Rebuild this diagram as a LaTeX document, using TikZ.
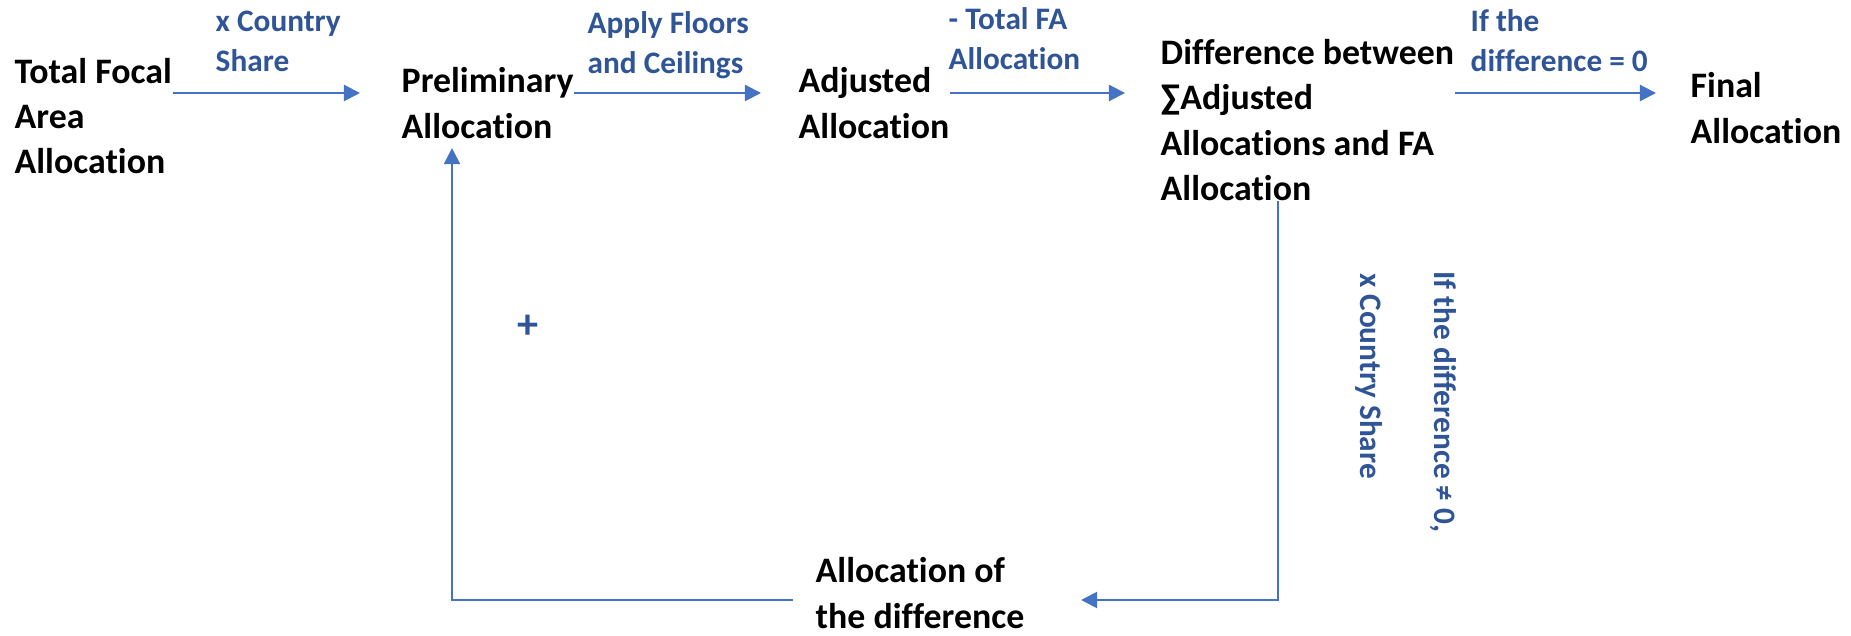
\documentclass[tikz,border=0pt]{standalone}
\usepackage{fontspec}
\setmainfont{Carlito}[Ligatures=CommonOff]
\usepackage{tikz}
\usetikzlibrary{arrows.meta,
	calc,
	positioning}

\definecolor{arrowblue}{HTML}{4472C4}
\definecolor{labelblue}{HTML}{2F5597}

\begin{document}
\begin{tikzpicture}
    \tikzstyle{stepnode}=[anchor=west,align=left,inner sep=0pt,font=\fontsize{10.2}{12.9}\selectfont\bfseries]
    \tikzstyle{flowlabel}=[anchor=west,align=left,inner sep=0pt,text=labelblue,font=\fontsize{8.9}{11.4}\selectfont\bfseries]
    \tikzstyle{flow}=[draw=arrowblue,line width=0.6pt,-{Triangle[length=4.6pt,width=4.6pt]}]
    \useasboundingbox (0,0) rectangle (18.51,-6.36);
    \node[stepnode] (s_1) at (0.14,-1.16) {Total Focal\\Area\\Allocation};
    \node[stepnode] (s_2) at (4.01,-1.03) {Preliminary\\Allocation};
    \node[stepnode] (s_3) at (7.98,-1.03) {Adjusted\\Allocation};
    \node[stepnode] (s_4) at (11.60,-1.20) {Difference between\\∑Adjusted\\Allocations and FA\\Allocation};
    \node[stepnode] (s_5) at (16.90,-1.08) {Final\\Allocation};
    \node[stepnode] (s_6) at (8.15,-5.93) {Allocation of\\the difference};
    \node[flowlabel] (l_1) at (2.15,-0.41) {x Country\\Share};
    \node[flowlabel] (l_2) at (5.87,-0.45) {Apply Floors\\and Ceilings};
    \node[flowlabel] (l_3) at (9.48,-0.39) {- Total FA\\Allocation};
    \node[flowlabel] (l_4) at (14.70,-0.41) {If the\\difference = 0};
    \node[flowlabel,anchor=center,rotate=-90] (l_5) at (13.69,-3.76) {x Country Share};
    \node[flowlabel,anchor=center,rotate=-90] (l_6) at (14.43,-4.02) {If the difference ≠ 0,};
    \node[flowlabel,anchor=center,font=\fontsize{12}{12}\selectfont\bfseries] (l_7) at (5.28,-3.27) {+};
    \coordinate (row) at (0,-0.93);
    \coordinate (b_1) at (4.52,-6.00);
    \coordinate (b_2) at (12.78,-6.00);
    \draw[flow] (s_1.east |- row) -- ([xshift=-4.1mm]s_2.west |- row);
    \draw[flow] (s_2.east |- row) -- ([xshift=-3.7mm]s_3.west |- row);
    \draw[flow] (s_3.east |- row) -- ([xshift=-3.5mm]s_4.west |- row);
    \draw[flow] (s_4.east |- row) -- ([xshift=-3.4mm]s_5.west |- row);
    \draw[flow] (b_2 |- s_4.south) -- (b_2) -- ([xshift=5.6mm]s_6.east |- b_2);
    \draw[flow] ([xshift=-2.2mm]s_6.west |- b_1) -- (b_1) -- ([yshift=-0.9mm]b_1 |- s_2.south);
\end{tikzpicture}
\end{document}
